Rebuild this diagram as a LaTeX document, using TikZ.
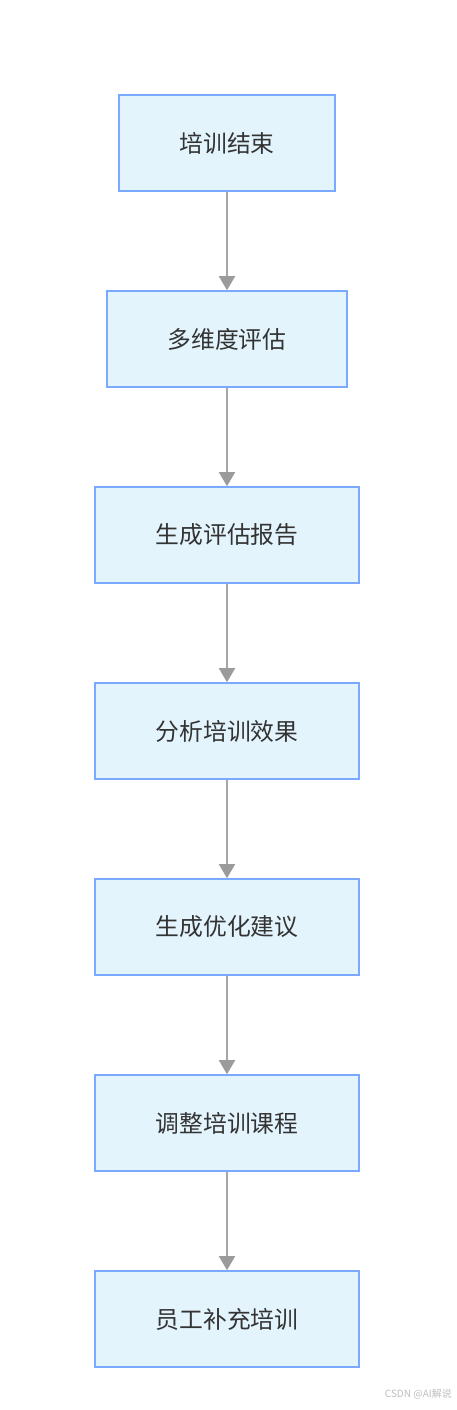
\documentclass[tikz,border=0pt]{standalone}
\usepackage{fontspec}
\newfontfamily\cjk{Noto Sans CJK SC}
\usetikzlibrary{arrows.meta}
\definecolor{boxfill}{RGB}{227,244,253}
\definecolor{boxline}{RGB}{122,170,255}
\definecolor{txt}{RGB}{51,51,51}
\definecolor{arr}{RGB}{165,165,165}
\definecolor{arrhead}{RGB}{155,155,155}
\definecolor{wm}{RGB}{190,190,190}
\tikzset{
  x=1pt, y=-1pt,
  stepbox/.style={draw=boxline, fill=boxfill, line width=1.6pt, minimum height=96pt,
    inner sep=0pt, font=\cjk\fontsize{23.8}{28}\selectfont, text=txt},
  flow/.style={draw=arr, line width=1.8pt,
    -{Triangle[width=16pt,length=14pt,fill=arrhead,color=arrhead]}, shorten >=0pt},
}
\begin{document}
\begin{tikzpicture}
\useasboundingbox (0,0) rectangle (456,1410);
\node[stepbox, minimum width=216pt] (n1) at (227,143) {培训结束};
\node[stepbox, minimum width=240pt] (n2) at (227,339) {多维度评估};
\node[stepbox, minimum width=264pt] (n3) at (227,535) {生成评估报告};
\node[stepbox, minimum width=264pt] (n4) at (227,731) {分析培训效果};
\node[stepbox, minimum width=264pt] (n5) at (227,927) {生成优化建议};
\node[stepbox, minimum width=264pt] (n6) at (227,1123) {调整培训课程};
\node[stepbox, minimum width=264pt] (n7) at (227,1319) {员工补充培训};
\draw[flow] (n1) -- (n2);
\draw[flow] (n2) -- (n3);
\draw[flow] (n3) -- (n4);
\draw[flow] (n4) -- (n5);
\draw[flow] (n5) -- (n6);
\draw[flow] (n6) -- (n7);
\node[anchor=east, inner sep=0pt, text=wm, font=\cjk\fontsize{10}{12}\selectfont] (wmk) at (452,1394) {CSDN @AI解说};
\end{tikzpicture}
\end{document}
